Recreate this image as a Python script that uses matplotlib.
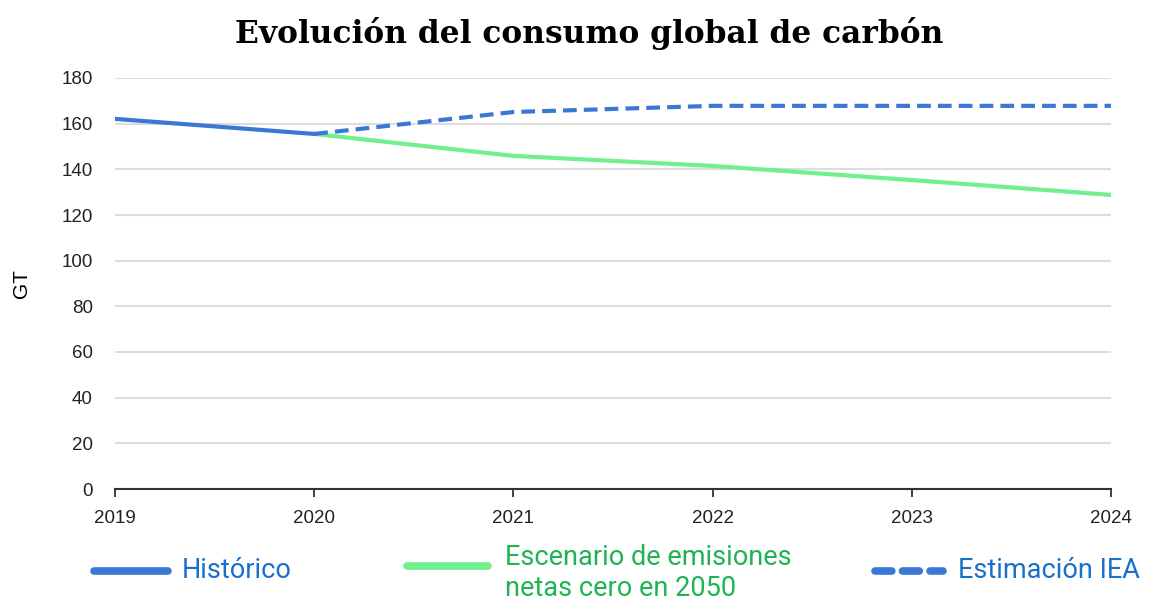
import matplotlib
matplotlib.use("Agg")
import matplotlib.pyplot as plt
from matplotlib.lines import Line2D

years = [2019, 2020, 2021, 2022, 2023, 2024]
hist_years = [2019, 2020]
hist_vals = [162.1, 155.5]
nz_years = [2020, 2021, 2022, 2023, 2024]
nz_vals = [155.5, 145.9, 141.5, 135.3, 128.8]
iea_years = [2020, 2021, 2022, 2023, 2024]
iea_vals = [155.5, 165.1, 167.8, 167.8, 167.8]
yticks = [0, 20, 40, 60, 80, 100, 120, 140, 160, 180]

BLUE = "#3b78d6"
GREEN = "#72f08f"

fig = plt.figure(figsize=(11.49, 6.05), dpi=100)
ax = fig.add_axes([115/1149, 1-489/605, (1111-115)/1149, (489-78)/605])

ax.plot(nz_years, nz_vals, color=GREEN, lw=3.0, solid_capstyle="round", zorder=3)
ax.plot(iea_years, iea_vals, color=BLUE, lw=3.0, dashes=(3.3, 1.7), zorder=4)
ax.plot(hist_years, hist_vals, color=BLUE, lw=3.0, solid_capstyle="round", zorder=5)

ax.set_xlim(2019, 2024)
ax.set_ylim(0, 180)
ax.set_yticks(yticks)
ax.set_xticks(years)
ax.set_xticklabels([str(y) for y in years])
ax.grid(axis="y", color="#dddddd", lw=1.5)
ax.set_axisbelow(True)
for s in ["left", "right", "top"]:
    ax.spines[s].set_visible(False)
ax.spines["bottom"].set_color("#333333")
ax.spines["bottom"].set_linewidth(1.5)
ax.tick_params(axis="y", length=0, pad=16, labelsize=13.5, labelcolor="#222222")
ax.tick_params(axis="x", length=6, width=1.3, color="#333333", pad=9, labelsize=13.5, labelcolor="#222222")
for lab in ax.get_xticklabels() + ax.get_yticklabels():
    lab.set_family("Liberation Sans")
ax.set_ylabel("GT", fontsize=15, family="Liberation Sans", labelpad=22)

fig.text(0.513, 0.945, "Evolución del consumo global de carbón", ha="center", va="center",
         fontsize=22.5, fontweight="bold", family="DejaVu Serif")

# legend
def lx(px):
    return px / 1149
def ly(py):
    return 1 - py / 605

legfont = ["Roboto", "DejaVu Sans"]
fig.add_artist(Line2D([lx(94), lx(168)], [ly(571), ly(571)], color=BLUE, lw=5.5,
                      solid_capstyle="round", transform=fig.transFigure))
fig.text(lx(182), ly(571), "Histórico", color="#1a6fc9", fontsize=19.5, va="center", ha="left", family=legfont)
fig.add_artist(Line2D([lx(407), lx(488)], [ly(566), ly(566)], color=GREEN, lw=5.5,
                      solid_capstyle="round", transform=fig.transFigure))
fig.text(lx(505), ly(573), "Escenario de emisiones\nnetas cero en 2050", color="#1fb352", fontsize=19.5,
         va="center", ha="left", family=legfont, linespacing=1.2)
fig.add_artist(Line2D([lx(875), lx(943)], [ly(571), ly(571)], color=BLUE, lw=5.5,
                      dashes=(2.2, 1.4), dash_capstyle="round", transform=fig.transFigure))
fig.text(lx(958), ly(571), "Estimación IEA", color="#1a6fc9", fontsize=19.5, va="center", ha="left", family=legfont)

fig.savefig("out.png", dpi=100)
